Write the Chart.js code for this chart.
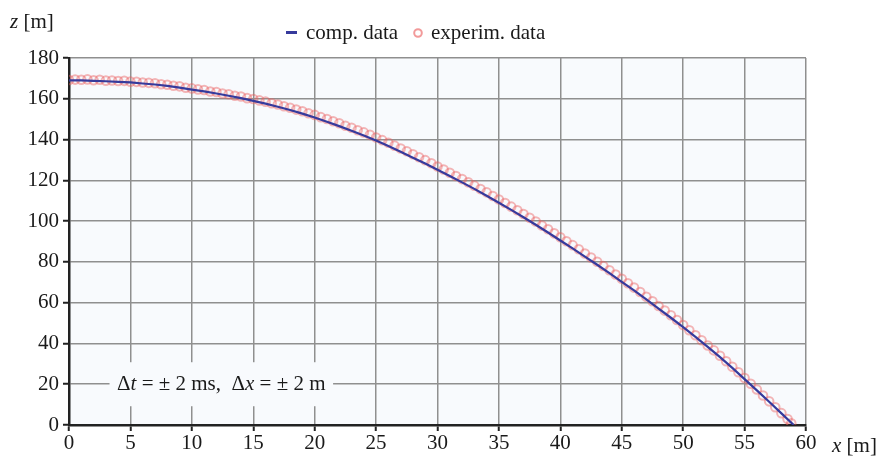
<!DOCTYPE html>
<html>
<head>
<meta charset="utf-8">
<script src="https://cdn.jsdelivr.net/npm/chart.js@4.4.1/dist/chart.umd.min.js"></script>
<style>
html,body{margin:0;padding:0;background:#fff;}
#wrap{width:885px;height:459px;position:relative;}
</style>
</head>
<body>
<div id="wrap"><canvas id="c" width="885" height="459"></canvas></div>
<script>
// ---- data ----
const seriesNames = ["comp. data", "experim. data"];
const xTicks = [0,5,10,15,20,25,30,35,40,45,50,55,60];
const yTicks = [0,20,40,60,80,100,120,140,160,180];

const compX = [0,1,2,3,4,5,6,7,8,9,10,11,12,13,14,15,16,17,18,19,20,21,22,23,24,25,26,27,28,29,30,31,32,33,34,35,36,37,38,39,40,41,42,43,44,45,46,47,48,49,50,51,52,53,54,55,56,57,58,59];
const compZ = [169.0,169.0,168.8,168.6,168.3,168.0,167.5,167.0,166.3,165.5,164.5,163.6,162.6,161.5,160.3,159.0,157.6,156.1,154.5,152.7,150.8,148.7,146.6,144.3,142.0,139.5,136.8,134.0,131.1,128.2,125.2,122.1,119.0,115.8,112.4,109.0,105.5,101.9,98.2,94.4,90.5,86.6,82.6,78.6,74.5,70.2,66.0,61.6,57.1,52.6,48.0,43.2,38.3,33.3,28.0,22.5,17.0,11.4,5.7,0.0];

const expX = [0,0.5,1,1.5,2,2.5,3,3.5,4,4.5,5,5.5,6,6.5,7,7.5,8,8.5,9,9.5,10,10.5,11,11.5,12,12.5,13,13.5,14,14.5,15,15.5,16,16.5,17,17.5,18,18.5,19,19.5,20,20.5,21,21.5,22,22.5,23,23.5,24,24.5,25,25.5,26,26.5,27,27.5,28,28.5,29,29.5,30,30.5,31,31.5,32,32.5,33,33.5,34,34.5,35,35.5,36,36.5,37,37.5,38,38.5,39,39.5,40,40.5,41,41.5,42,42.5,43,43.5,44,44.5,45,45.5,46,46.5,47,47.5,48,48.5,49,49.5,50,50.5,51,51.5,52,52.5,53,53.5,54,54.5,55,55.5,56,56.5,57,57.5,58,58.5,58.8];
const expZ = [169.2,169.4,169.3,169.5,169.1,169.3,168.9,169.0,168.7,168.8,168.4,168.3,168.0,167.8,167.6,167.1,166.9,166.4,166.1,165.4,165.1,164.6,164.3,163.6,163.3,162.6,162.2,161.5,161.1,160.3,159.9,159.2,158.6,157.8,157.2,156.3,155.6,154.7,153.9,152.9,152.1,151.0,150.1,149.0,148.0,146.8,145.8,144.6,143.5,142.3,141.0,139.7,138.4,137.0,135.6,134.3,132.8,131.3,129.9,128.4,126.8,125.3,123.7,122.1,120.6,119.0,117.4,115.7,114.1,112.3,110.6,108.9,107.1,105.3,103.5,101.6,99.8,97.8,96.0,94.0,92.1,90.1,88.2,86.2,84.1,82.1,80.1,78.0,75.9,73.8,71.7,69.5,67.4,65.2,62.9,60.7,58.4,56.1,53.8,51.5,49.0,46.5,44.0,41.6,39.0,36.6,34.0,31.3,28.6,25.9,23.0,20.2,17.4,14.5,11.6,8.7,5.8,2.9,0.8];

const FONT = "'Liberation Serif', 'Times New Roman', serif";
const TXT = '#1a1a1a';
const BLUE = '#363a9c';
const PINK = 'rgba(236,96,96,0.45)';

const pts = (xs, ys) => xs.map((x, i) => ({x: x, y: ys[i]}));

const decor = {
  id: 'decor',
  beforeDraw(chart) {
    const {ctx, chartArea: a} = chart;
    ctx.save();
    ctx.fillStyle = '#f8fafd';
    ctx.fillRect(a.left, a.top, a.right - a.left, a.bottom - a.top);
    ctx.restore();
  },
  beforeDatasetsDraw(chart) {
    const {ctx} = chart;
    const xs = chart.scales.x, ys = chart.scales.y;
    const cy = ys.getPixelForValue(20);
    const x0 = xs.getPixelForValue(3.3);
    const x1 = xs.getPixelForValue(21.5);
    ctx.save();
    ctx.fillStyle = '#f8fafd';
    ctx.fillRect(x0, cy - 22, x1 - x0, 44);
    const parts = [
      ['Δ', false], ['t', true], [' = ± 2 ms,  Δ', false], ['x', true], [' = ± 2 m', false]
    ];
    ctx.textBaseline = 'middle';
    let total = 0;
    parts.forEach(p => { ctx.font = (p[1] ? 'italic ' : '') + '21px ' + FONT; total += ctx.measureText(p[0]).width; });
    let px = (x0 + x1) / 2 - total / 2;
    ctx.fillStyle = TXT;
    parts.forEach(p => {
      ctx.font = (p[1] ? 'italic ' : '') + '21px ' + FONT;
      ctx.fillText(p[0], px, cy);
      px += ctx.measureText(p[0]).width;
    });
    ctx.restore();
  },
  afterDraw(chart) {
    const {ctx} = chart;
    ctx.save();
    ctx.fillStyle = TXT;
    ctx.textBaseline = 'middle';
    const drawMixed = (parts, x, y) => {
      let px = x;
      parts.forEach(p => {
        ctx.font = (p[1] ? 'italic ' : '') + '21px ' + FONT;
        ctx.fillText(p[0], px, y);
        px += ctx.measureText(p[0]).width;
      });
    };
    drawMixed([['z', true], [' [m]', false]], 10, 22);
    drawMixed([['x', true], [' [m]', false]], 832, 446);
    ctx.fillStyle = BLUE;
    ctx.fillRect(286, 31, 11, 3);
    ctx.fillStyle = TXT;
    ctx.font = '21px ' + FONT;
    ctx.fillText(seriesNames[0], 306, 33);
    ctx.beginPath();
    ctx.arc(418, 33, 3.8, 0, Math.PI * 2);
    ctx.strokeStyle = 'rgba(238,120,120,0.75)';
    ctx.lineWidth = 2;
    ctx.stroke();
    ctx.fillText(seriesNames[1], 431, 33);
    ctx.restore();
  }
};

new Chart(document.getElementById('c'), {
  type: 'scatter',
  data: {
    datasets: [
      {
        label: seriesNames[0],
        data: pts(compX, compZ),
        showLine: true,
        borderColor: BLUE,
        borderWidth: 2.2,
        pointRadius: 0,
        fill: false,
        tension: 0,
        order: 0
      },
      {
        label: seriesNames[1],
        data: pts(expX, expZ),
        showLine: false,
        pointRadius: 4.3,
        pointBorderWidth: 2,
        pointBorderColor: PINK,
        pointBackgroundColor: 'rgba(0,0,0,0)',
        order: 1
      }
    ]
  },
  options: {
    responsive: false,
    animation: false,
    devicePixelRatio: 1,
    layout: {padding: {top: 58, right: 79, left: 0, bottom: 0}},
    plugins: {legend: {display: false}, tooltip: {enabled: false}},
    scales: {
      x: {
        type: 'linear', min: 0, max: 60,
        afterBuildTicks(s) { s.ticks = xTicks.map(v => ({value: v})); },
        afterFit(s) { s.height = 34; },
        grid: {color: '#8f8f8f', lineWidth: 1.5, tickLength: 6, tickColor: '#222', tickWidth: 2},
        border: {color: '#222', width: 2.5},
        ticks: {font: {family: FONT, size: 21}, color: TXT, padding: 0, maxRotation: 0}
      },
      y: {
        type: 'linear', min: 0, max: 180,
        afterBuildTicks(s) { s.ticks = yTicks.map(v => ({value: v})); },
        afterFit(s) { s.width = 69; },
        grid: {color: '#8f8f8f', lineWidth: 1.5, tickLength: 6, tickColor: '#222', tickWidth: 2},
        border: {color: '#222', width: 2.5},
        ticks: {font: {family: FONT, size: 21}, color: TXT, padding: 4}
      }
    }
  },
  plugins: [decor]
});
</script>
</body>
</html>
